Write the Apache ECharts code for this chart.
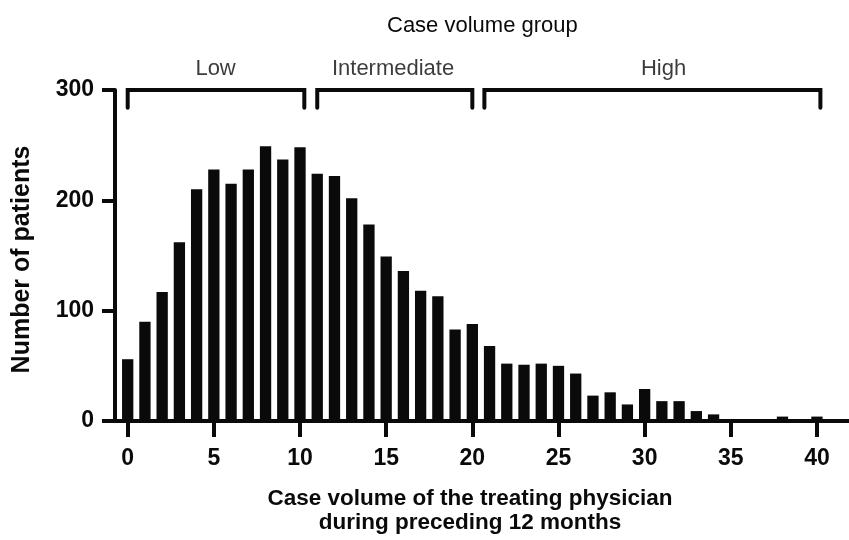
<!DOCTYPE html>
<html><head><meta charset="utf-8">
<script src="https://cdn.jsdelivr.net/npm/echarts@6/dist/echarts.min.js"></script>
<style>html,body{margin:0;padding:0;background:#fff}#c{width:849px;height:540px}</style>
</head><body><div id="c"></div>
<script>
// ---- data ----
const caseVolume = [0,1,2,3,4,5,6,7,8,9,10,11,12,13,14,15,16,17,18,19,20,21,22,23,24,25,26,27,28,29,30,31,32,33,34,35,36,37,38,39,40];
const patients   = [56,90,117,162,210,228,215,228,249,237,248,224,222,202,178,149,136,118,113,83,88,68,52,51,52,50,43,23,26,15,29,18,18,9,6,1,1,1,4,0,4];
const xTicks = [0,5,10,15,20,25,30,35,40];
const yTicks = [0,100,200,300];
const groupTitle = 'Case volume group';
const groupNames = ['Low','Intermediate','High'];
const groupStart = [0, 11, 20.7];
const groupEnd   = [10.25, 20, 40.2];
const groupLabelAt = [5.1, 15.4, 31.1];
const bracketTop = 300, bracketFoot = 284, groupLabelY = 319;
const xTitle = 'Case volume of the treating physician\nduring preceding 12 months';
const yTitle = 'Number of patients';

const FONT = "'Liberation Sans', Arial, sans-serif";
const INK = '#0a0a0a';

const bracketSeries = groupNames.map((g, i) => ({
  type: 'line', silent: true, clip: false, symbol: 'none',
  lineStyle: { color: INK, width: 4, cap: 'round', join: 'miter' },
  data: [[groupStart[i], bracketFoot], [groupStart[i], bracketTop], [groupEnd[i], bracketTop], [groupEnd[i], bracketFoot]],
  z: 5
}));

const option = {
  animation: false,
  backgroundColor: '#fff',
  title: {
    text: groupTitle, left: 382, top: 10,
    textStyle: { fontFamily: FONT, fontSize: 22, fontWeight: 'normal', color: INK }
  },
  grid: { left: 115, right: 0, top: 90, bottom: 116.5, containLabel: false },
  xAxis: {
    type: 'value', min: -0.737, max: 41.86,
    axisLine: { show: true, onZero: false, lineStyle: { color: INK, width: 4 } },
    axisTick: { show: true, customValues: xTicks, length: 16, lineStyle: { color: INK, width: 4 } },
    axisLabel: { customValues: xTicks, margin: 26, fontFamily: FONT, fontSize: 23, fontWeight: 'bold', color: INK },
    splitLine: { show: false },
    name: xTitle, nameLocation: 'middle', nameGap: 66,
    nameTextStyle: { fontFamily: FONT, fontSize: 22.5, fontWeight: 'bold', color: INK, lineHeight: 24, padding: [0, 24, 0, 0] }
  },
  yAxis: {
    type: 'value', min: 0, max: 300, interval: 100,
    axisLine: { show: true, onZero: false, lineStyle: { color: INK, width: 4 } },
    axisTick: { show: true, length: 13, lineStyle: { color: INK, width: 4 } },
    axisLabel: { margin: 21, fontFamily: FONT, fontSize: 23, fontWeight: 'bold', color: INK },
    splitLine: { show: false },
    name: yTitle, nameLocation: 'middle', nameGap: 80,
    nameTextStyle: { fontFamily: FONT, fontSize: 25, fontWeight: 'bold', color: INK, padding: [0, 8, 0, 0] }
  },
  series: [
    {
      type: 'bar', barWidth: 11.3, silent: true,
      itemStyle: { color: INK },
      data: caseVolume.map((v, i) => [v, patients[i]]),
      z: 2
    },
    ...bracketSeries,
    {
      type: 'scatter', silent: true, clip: false, symbolSize: 0,
      data: groupNames.map((g, i) => ({ name: g, value: [groupLabelAt[i], groupLabelY] })),
      label: { show: true, position: 'inside', formatter: p => p.name, fontFamily: FONT, fontSize: 22, color: INK }
    }
  ]
};
const chart = echarts.init(document.getElementById('c'), null, { renderer: 'canvas' });
chart.setOption(option);
</script>
</body></html>
